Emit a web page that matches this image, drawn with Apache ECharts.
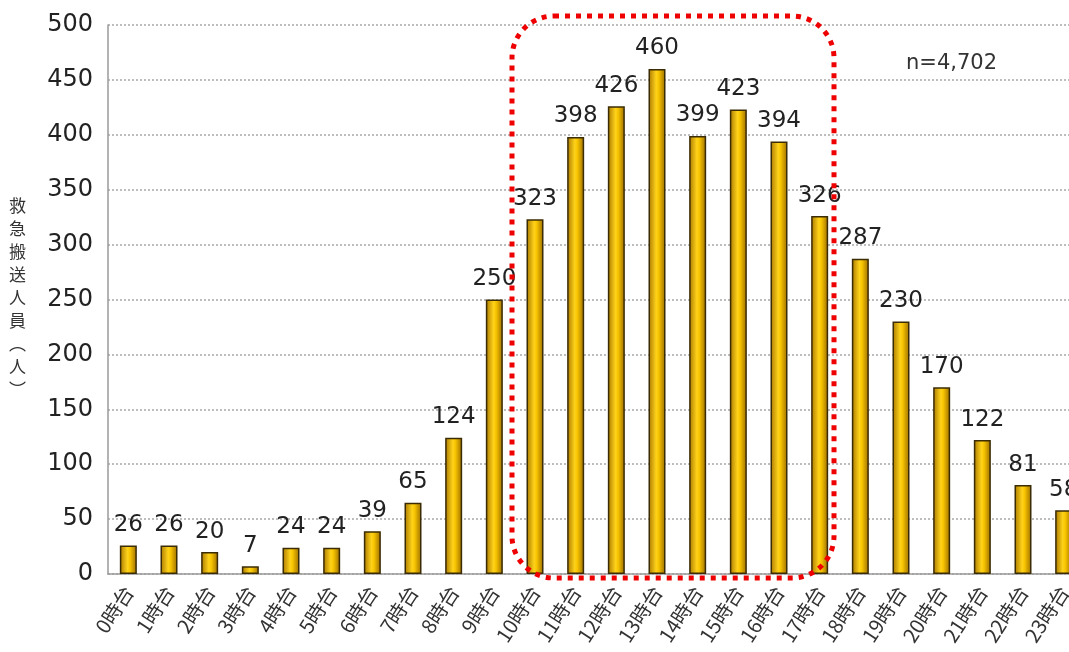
<!DOCTYPE html>
<html>
<head>
<meta charset="utf-8">
<script src="https://cdn.jsdelivr.net/npm/echarts@6/dist/echarts.min.js"></script>
<style>
html,body{margin:0;padding:0;background:#fff;}
#main{width:1069px;height:652px;}
</style>
</head>
<body>
<div id="main"></div>
<script>
// 時間帯別 救急搬送人員
var hours = ['0時台','1時台','2時台','3時台','4時台','5時台','6時台','7時台','8時台','9時台','10時台','11時台',
    '12時台','13時台','14時台','15時台','16時台','17時台','18時台','19時台','20時台','21時台','22時台','23時台'];
var persons = [26,26,20,7,24,24,39,65,124,250,323,398,426,460,399,423,394,326,287,230,170,122,81,58];
var yTicks = [0,50,100,150,200,250,300,350,400,450,500];

var myChart = echarts.init(document.getElementById('main'));

var numFont = 'DejaVu Sans, Verdana, sans-serif';
var jpFont = 'Noto Sans CJK JP, sans-serif';

var option = {
    animation: false,
    grid: {
        left: 108,
        top: 25,
        width: 976,
        bottom: 78,
        outerBoundsMode: 'none'
    },
    xAxis: [{
        type: 'category',
        data: hours,
        axisLine: { // 軸線
            show: true,
            lineStyle: { color: '#9a9a9a', width: 1.5 }
        },
        axisTick: { show: false },
        axisLabel: {
            interval: 0,
            rotate: 57,
            margin: 14,
            color: '#333',
            fontSize: 20,
            fontFamily: jpFont
        }
    }],
    yAxis: [{
        type: 'value',
        min: yTicks[0],
        max: yTicks[yTicks.length - 1],
        interval: 50,
        axisLine: {
            show: true,
            lineStyle: { color: '#9a9a9a', width: 1.5 }
        },
        axisTick: { show: false },
        splitLine: { // 目盛線
            show: true,
            lineStyle: { color: '#bdbdbd', type: 'dotted', width: 2 }
        },
        axisLabel: {
            margin: 15,
            color: '#222',
            fontSize: 24,
            fontFamily: numFont
        }
    }],
    series: [{
        name: '救急搬送人員',
        type: 'bar',
        barWidth: 17,
        data: persons,
        itemStyle: {
            color: new echarts.graphic.LinearGradient(0, 0, 1, 0, [
                { offset: 0, color: '#a87800' },
                { offset: 0.45, color: '#ffd21a' },
                { offset: 0.6, color: '#f7c400' },
                { offset: 1, color: '#9a6c00' }
            ]),
            borderColor: '#3b2c05',
            borderWidth: 1.5
        },
        label: {
            show: true,
            position: 'top',
            distance: 9,
            color: '#222',
            fontSize: 23,
            fontFamily: numFont
        }
    }],
    graphic: [
        {
            type: 'text',
            left: 9,
            top: 194,
            style: {
                text: '救\n急\n搬\n送\n人\n員\n︵\n人\n︶',
                fill: '#333',
                font: '17px ' + jpFont,
                lineHeight: 23,
                align: 'center'
            }
        },
        {
            type: 'text',
            left: 906,
            top: 53,
            style: {
                text: 'n=4,702',
                fill: '#333',
                font: '21px ' + numFont
            }
        },
        {
            type: 'rect',
            shape: { x: 512, y: 16, width: 322, height: 562, r: 42 },
            style: {
                fill: 'none',
                stroke: '#ee0000',
                lineWidth: 5,
                lineDash: [5, 6]
            },
            z: 100
        }
    ]
};

myChart.setOption(option);
</script>
</body>
</html>
